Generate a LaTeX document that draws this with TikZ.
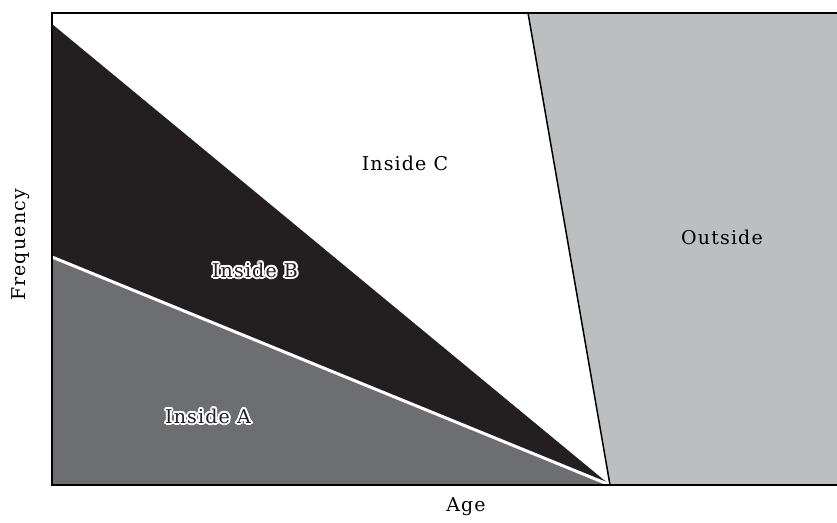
\documentclass[tikz,border=0pt]{standalone}
\usepackage{fontspec}
\setmainfont{DejaVu Serif}[LetterSpace=6]
\usepackage{tikz}
\definecolor{insidea}{HTML}{6D6E71}
\definecolor{insideb}{HTML}{231F20}
\definecolor{outside}{HTML}{BCBEC0}
\tikzset{lbl/.style={font=\fontsize{19}{22}\selectfont,inner sep=0pt}}

\begin{document}
\begin{tikzpicture}[x=1pt,y=-1pt]
	\useasboundingbox (0,0) rectangle (837,522);
	\coordinate (tl) at (52,13);
	\coordinate (bl) at (52,485);
	\coordinate (tr) at (840,13);
	\coordinate (br) at (840,485);
	\coordinate (apex) at (610,485);
	\coordinate (btop) at (52,24);
	\coordinate (atop) at (52,257);
	\coordinate (otop) at (528,13);
	\fill[insideb] (btop) -- (apex) -- (bl) -- cycle;
	\fill[insidea] (atop) -- (apex) -- (bl) -- cycle;
	\draw[white, line width=3pt] (atop) -- (apex);
	\fill[outside] (otop) -- (tr) -- (br) -- (apex) -- cycle;
	\draw[line width=1.5pt] (otop) -- (apex);
	\draw[line width=1.8pt] (tr) -- (tl) -- (bl) -- (br);
	\node[lbl] (c) at (405,163) {Inside C};
	\node[lbl] (out) at (722,237) {Outside};
	\foreach \a in {0,30,...,330} {
		\node[lbl,white,shift={(\a:2)}] at (255,270) {Inside B};
		\node[lbl,white,shift={(\a:2)}] at (208,416) {Inside A};}
	\node[lbl,insideb] (b) at (255,270) {Inside B};
	\node[lbl,insideb] (a) at (208,416) {Inside A};
	\node[lbl,rotate=90] (freq) at (21,245) {Frequency};
	\node[lbl] (age) at (466,507) {Age};
\end{tikzpicture}
\end{document}
